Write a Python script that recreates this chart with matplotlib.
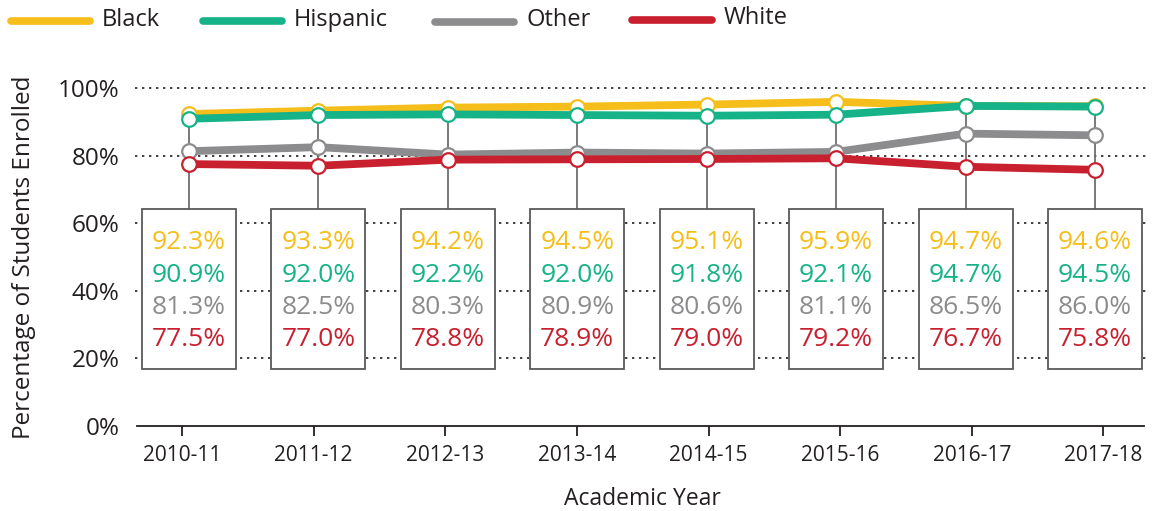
import numpy as np
import matplotlib
matplotlib.use("Agg")
import matplotlib.pyplot as plt
from matplotlib.patches import Rectangle
from matplotlib.lines import Line2D

plt.rcParams['font.family'] = ['Open Sans', 'DejaVu Sans']

# --------------------------------
# Data
# --------------------------------
years = ["2010-11", "2011-12", "2012-13", "2013-14",
         "2014-15", "2015-16", "2016-17", "2017-18"]
groups = ["Black", "Hispanic", "Other", "White"]
black = [92.3, 93.3, 94.2, 94.5, 95.1, 95.9, 94.7, 94.6]
hispanic = [90.9, 92.0, 92.2, 92.0, 91.8, 92.1, 94.7, 94.5]
other = [81.3, 82.5, 80.3, 80.9, 80.6, 81.1, 86.5, 86.0]
white = [77.5, 77.0, 78.8, 78.9, 79.0, 79.2, 76.7, 75.8]
series = [black, hispanic, other, white]
colors = ["#F5BE1A", "#17B388", "#8C8C8E", "#C8202F"]
dark = "#231F20"

W, H = 1155, 511
fig = plt.figure(figsize=(W / 100, H / 100), dpi=100)
ax = fig.add_axes([135 / W, 1 - 426 / H, (1150 - 135) / W, (426 - 88) / H])

x = np.arange(len(years))
ax.set_xlim(-0.417, 7.425)
ax.set_ylim(0, 100)

# gridlines
for g in [20, 40, 60, 80, 100]:
    ax.axhline(g, color=dark, lw=1.2, ls=(0, (1.4, 2.8)), zorder=0, clip_on=False)

# connectors + boxes
box_top, box_bot, box_w = 64.2, 16.9, 0.727
for i in x:
    top = max(s[i] for s in series)
    ax.plot([i, i], [box_top, top], color="#6D6E71", lw=1.3, zorder=1)
    ax.add_patch(Rectangle((i - box_w / 2, box_bot), box_w, box_top - box_bot,
                           facecolor="white", edgecolor="#58595B", lw=1.3, zorder=2))
    for k, (s, c) in enumerate(zip(series, colors)):
        ax.text(i, [54.2, 44.6, 35.1, 25.6][k], f"{s[i]:.1f}%", color=c,
                fontsize=19, ha="center", va="center", zorder=3)

# lines
for s, c in zip(series, colors):
    ax.plot(x, s, color=c, lw=5.6, marker="o", markersize=10.5,
            markerfacecolor="white", markeredgecolor=c, markeredgewidth=1.6,
            solid_capstyle="round", zorder=4)

# axes styling
for sp in ["top", "right", "left"]:
    ax.spines[sp].set_visible(False)
ax.spines["bottom"].set_color(dark)
ax.spines["bottom"].set_linewidth(1.3)
ax.spines["bottom"].set_bounds(-0.40, 7.38)

ax.set_xticks(x * 1.017 - 0.054)
ax.set_xticklabels(years, fontsize=15, color=dark)
ax.tick_params(axis="x", length=7, width=1.3, color=dark, pad=7)
ax.set_yticks([0, 20, 40, 60, 80, 100])
ax.set_yticklabels([f"{v}%" for v in [0, 20, 40, 60, 80, 100]], fontsize=17.5, color=dark)
ax.tick_params(axis="y", length=0, pad=11)

ax.set_xlabel("Academic Year", fontsize=16.5, color=dark, labelpad=15)
ax.set_ylabel("Percentage of Students Enrolled", fontsize=17.5, color=dark, labelpad=16)

# legend
leg_x = [(11, 90), (203, 282), (435, 514), (632, 712)]
leg_y = [21, 21, 22, 20]
for (x0, x1), yy, c, name in zip(leg_x, leg_y, colors, groups):
    fig.add_artist(Line2D([x0 / W, x1 / W], [1 - yy / H, 1 - yy / H],
                          color=c, lw=5.5, solid_capstyle="round",
                          transform=fig.transFigure))
    fig.text((x1 + 12) / W, 1 - (yy - 1.5) / H, name, fontsize=17,
             color=dark, va="center", ha="left")

fig.savefig("out.png", dpi=100)
